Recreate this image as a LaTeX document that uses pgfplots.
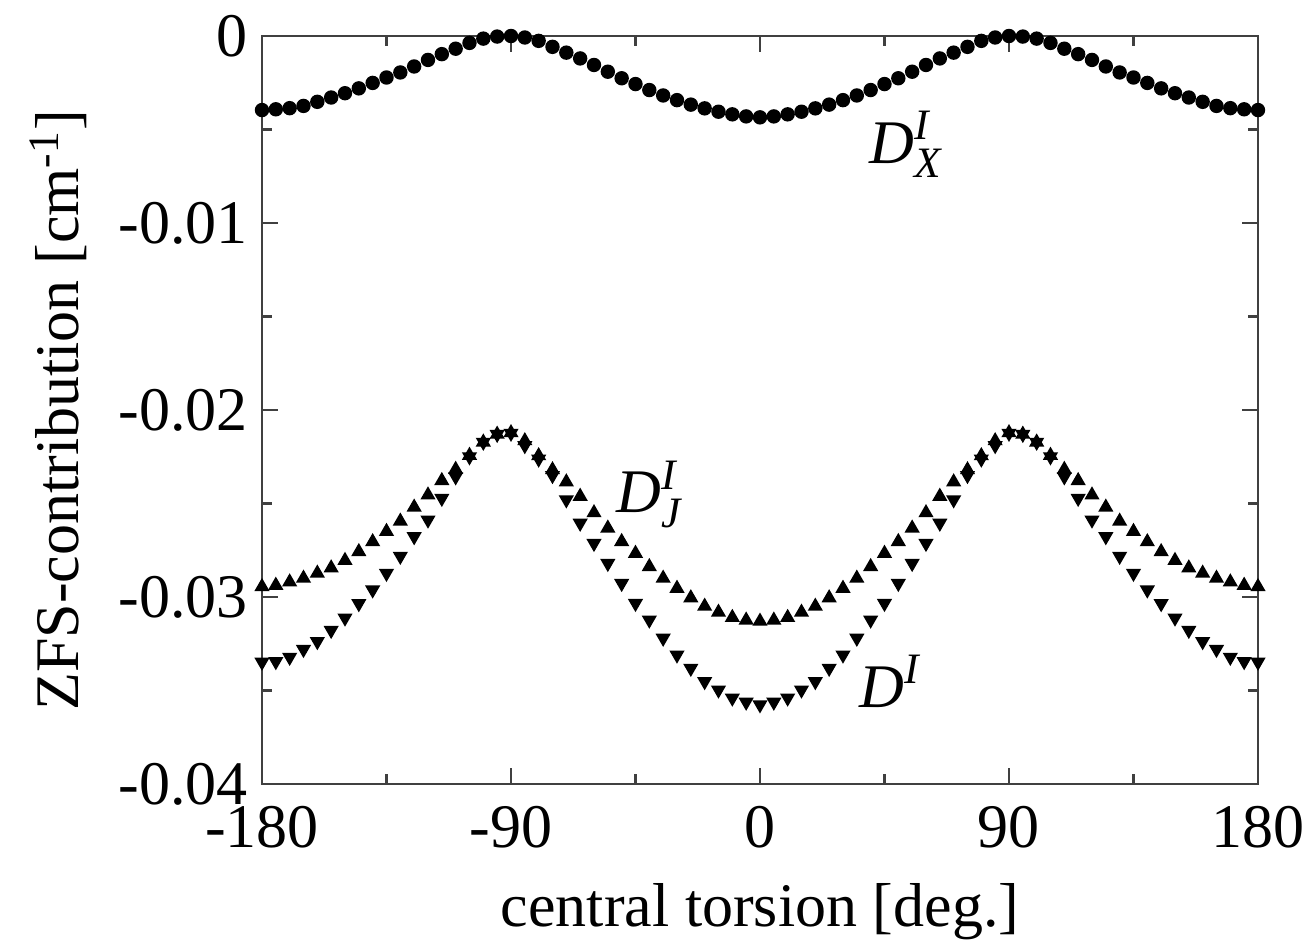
\documentclass[border=0pt]{standalone}
\usepackage{amsmath}
\usepackage{pgfplots}
\pgfplotsset{compat=1.18}
\usepackage{pgfplotstable}
\usepackage{fontspec}
\setmainfont{Liberation Serif}

% theta, D_X^I, D_J^I, D^I
\pgfplotstableread{
theta DX DJ D
-180 -0.00396 -0.02945 -0.03348
-175 -0.00392 -0.02938 -0.03345
-170 -0.00386 -0.02920 -0.03322
-165 -0.00374 -0.02900 -0.03280
-160 -0.00352 -0.02873 -0.03238
-155 -0.00329 -0.02845 -0.03178
-150 -0.00306 -0.02805 -0.03112
-145 -0.00280 -0.02758 -0.03035
-140 -0.00251 -0.02705 -0.02962
-135 -0.00222 -0.02650 -0.02873
-130 -0.00195 -0.02595 -0.02782
-125 -0.00163 -0.02520 -0.02677
-120 -0.00128 -0.02455 -0.02588
-115 -0.00097 -0.02378 -0.02472
-110 -0.00068 -0.02318 -0.02357
-105 -0.00037 -0.02243 -0.02250
-100 -0.00014 -0.02172 -0.02172
-95 -0.00003 -0.02130 -0.02130
-90 0.00000 -0.02122 -0.02124
-85 -0.00008 -0.02165 -0.02190
-80 -0.00026 -0.02245 -0.02262
-75 -0.00058 -0.02320 -0.02350
-70 -0.00089 -0.02385 -0.02480
-65 -0.00120 -0.02462 -0.02605
-60 -0.00155 -0.02550 -0.02713
-55 -0.00191 -0.02632 -0.02820
-50 -0.00226 -0.02704 -0.02927
-45 -0.00257 -0.02767 -0.03034
-40 -0.00289 -0.02838 -0.03123
-35 -0.00318 -0.02900 -0.03220
-30 -0.00343 -0.02954 -0.03310
-25 -0.00367 -0.03005 -0.03381
-20 -0.00387 -0.03050 -0.03452
-15 -0.00405 -0.03082 -0.03497
-10 -0.00419 -0.03110 -0.03540
-5 -0.00430 -0.03124 -0.03562
0 -0.00435 -0.03130 -0.03576
5 -0.00430 -0.03124 -0.03562
10 -0.00419 -0.03110 -0.03540
15 -0.00405 -0.03082 -0.03497
20 -0.00387 -0.03050 -0.03452
25 -0.00367 -0.03005 -0.03381
30 -0.00343 -0.02954 -0.03310
35 -0.00318 -0.02900 -0.03220
40 -0.00289 -0.02838 -0.03123
45 -0.00257 -0.02767 -0.03034
50 -0.00226 -0.02704 -0.02927
55 -0.00191 -0.02632 -0.02820
60 -0.00155 -0.02550 -0.02713
65 -0.00120 -0.02462 -0.02605
70 -0.00089 -0.02385 -0.02480
75 -0.00058 -0.02320 -0.02350
80 -0.00026 -0.02245 -0.02262
85 -0.00008 -0.02165 -0.02190
90 0.00000 -0.02122 -0.02124
95 -0.00003 -0.02130 -0.02130
100 -0.00014 -0.02172 -0.02172
105 -0.00037 -0.02243 -0.02250
110 -0.00068 -0.02318 -0.02357
115 -0.00097 -0.02378 -0.02472
120 -0.00128 -0.02455 -0.02588
125 -0.00163 -0.02520 -0.02677
130 -0.00195 -0.02595 -0.02782
135 -0.00222 -0.02650 -0.02873
140 -0.00251 -0.02705 -0.02962
145 -0.00280 -0.02758 -0.03035
150 -0.00306 -0.02805 -0.03112
155 -0.00329 -0.02845 -0.03178
160 -0.00352 -0.02873 -0.03238
165 -0.00374 -0.02900 -0.03280
170 -0.00386 -0.02920 -0.03322
175 -0.00392 -0.02938 -0.03345
180 -0.00396 -0.02945 -0.03348
}\zfs

\begin{document}
\begin{tikzpicture}
\begin{axis}[
name=ax,
scale only axis,
width=249pt, height=187pt,
xmin=-180, xmax=180,
ymin=-0.04, ymax=0,
scaled y ticks=false,
xtick={-180,-90,0,90,180},
xticklabels={-180,-90,0,90,180},
minor xtick={-135,-45,45,135},
ytick={-0.04,-0.03,-0.02,-0.01,0},
yticklabels={-0.04,-0.03,-0.02,-0.01,0},
minor ytick={-0.035,-0.025,-0.015,-0.005},
tick align=inside,
major tick length=4pt,
minor tick length=2.5pt,
axis line style={black!75, line width=0.6pt},
every tick/.style={black!75, line width=0.6pt},
tick label style={font=\fontsize{15.5}{17}\selectfont},
xticklabel style={yshift=-2pt},
label style={font=\fontsize{15.5}{17}\selectfont},
xlabel={central torsion [deg.]},
ylabel={ZFS-contribution [cm\textsuperscript{-1}]},
xlabel style={yshift=-2pt},
ylabel style={yshift=1pt},
clip=false,
]
\addplot[only marks, mark=*, mark size=1.6pt, black] table[x=theta, y=DX] {\zfs};
\addplot[only marks, mark=triangle*, mark size=1.8pt, black] table[x=theta, y=DJ] {\zfs};
\addplot[only marks, mark=triangle*, mark size=1.8pt, black, mark options={rotate=180}] table[x=theta, y=D] {\zfs};
\node[font=\fontsize{15.5}{17}\selectfont] at (axis cs:53,-0.0058) {$\textit{D}^{\textit{I}}_{\textit{X}}$};
\node[font=\fontsize{15.5}{17}\selectfont] at (axis cs:-40,-0.0245) {$\textit{D}^{\textit{I}}_{\textit{J}}$};
\node[font=\fontsize{15.5}{17}\selectfont] at (axis cs:47,-0.0345) {$\textit{D}^{\textit{I}}$};
\end{axis}
\pgfresetboundingbox
\path ([shift={(-65.5pt,-39.5pt)}]ax.south west) rectangle ([shift={(13pt,9pt)}]ax.north east);
\end{tikzpicture}
\end{document}
